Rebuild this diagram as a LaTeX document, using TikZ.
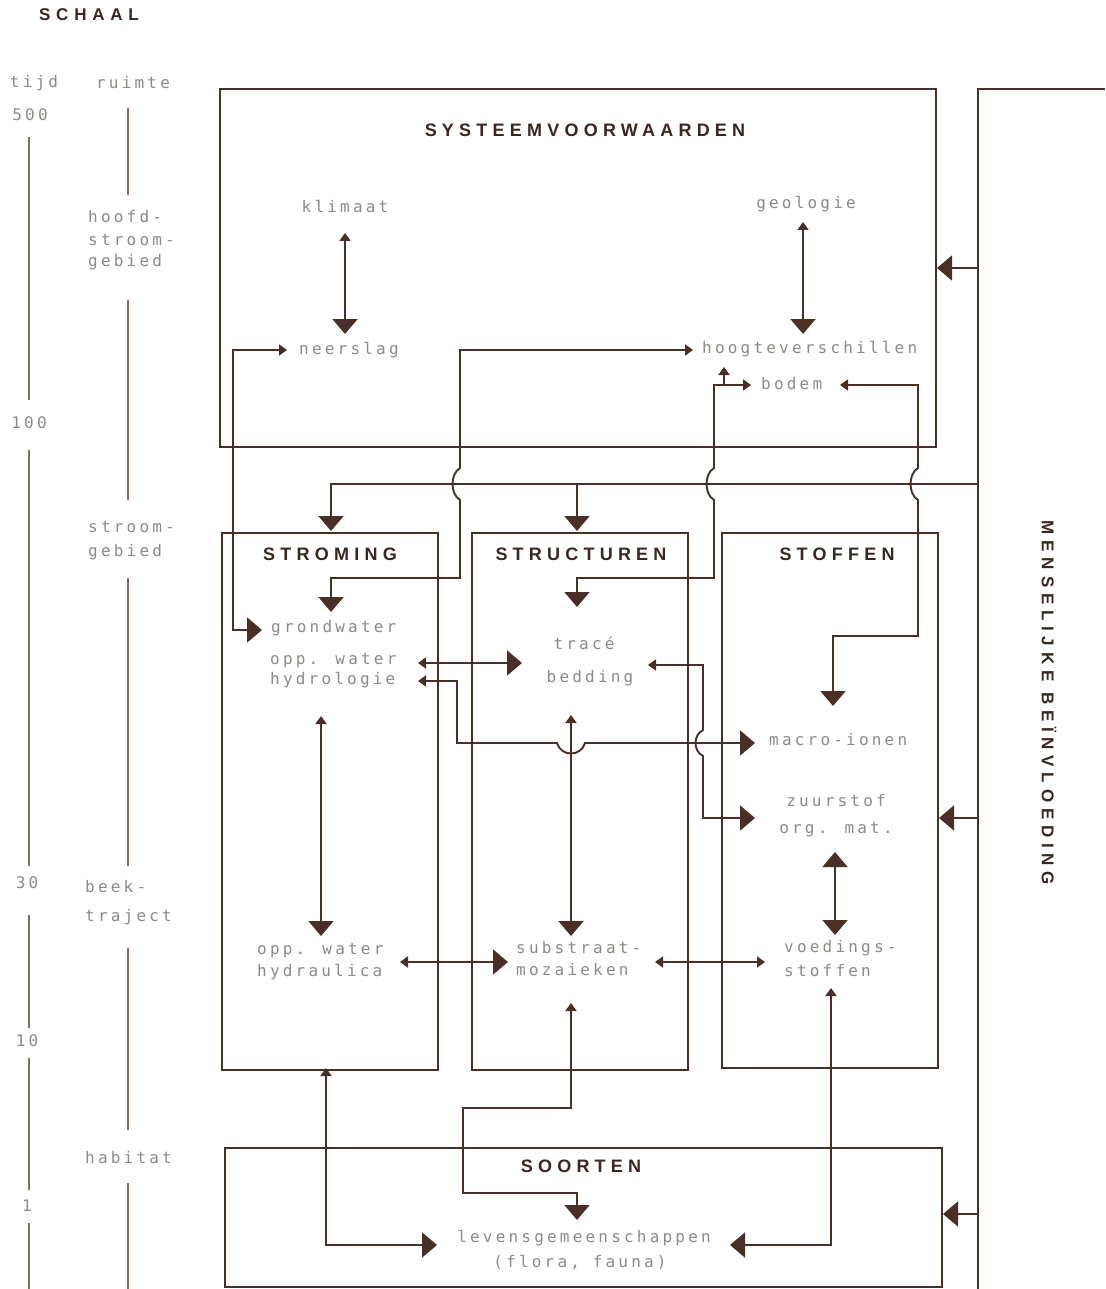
\documentclass[tikz,border=0pt]{standalone}
\usepackage{fontspec}
\setmainfont{Liberation Sans}
\newfontfamily\lblfont[LetterSpace=20]{DejaVu Sans Mono}
\newfontfamily\ttlfont[LetterSpace=29]{Liberation Sans}
\newfontfamily\mensfont[LetterSpace=34]{Liberation Sans}
\usetikzlibrary{arrows.meta}
\definecolor{ink}{HTML}{4A2F27}
\definecolor{lblc}{HTML}{8E8A86}
\definecolor{ttlc}{HTML}{3A2622}
\definecolor{sclc}{HTML}{8A6A60}
\tikzset{
  ST/.tip={Triangle[length=8pt,width=11pt]},
  BT/.tip={Triangle[length=15pt,width=25pt]},
  conn/.style={draw=ink, fill=none, line width=1.9pt},
  box/.style={draw=ink, line width=1.9pt, inner sep=0pt},
  lab/.style={text=lblc, font=\lblfont\fontsize{16}{19}\selectfont, inner sep=0pt, align=left},
  ttl/.style={text=ttlc, font=\ttlfont\bfseries\fontsize{18}{21}\selectfont, inner sep=0pt},
  mttl/.style={text=ttlc, font=\mensfont\bfseries\fontsize{17}{20}\selectfont, inner sep=0pt},
  sline/.style={draw=sclc, line width=1.6pt},
}
\begin{document}
\begin{tikzpicture}[x=1pt,y=-1pt]
\useasboundingbox[fill=white] (0,0) rectangle (1105,1289);

% ---------- scale column ----------
\node[mttl] (schaal) at (89,15) {SCHAAL};
\node[lab] (tijd) at (34,83) {tijd};
\node[lab] (ruimte) at (133,83) {ruimte};
\node[lab] (t500) at (30,115) {500};
\node[lab] (t100) at (29,423) {100};
\node[lab] (t30) at (27,883) {30};
\node[lab] (t10) at (27,1041) {10};
\node[lab] (t1) at (27,1206) {1};
\node[lab, anchor=west] (hs1) at (88,217) {hoofd-};
\node[lab, anchor=west] (hs2) at (88,240) {stroom-};
\node[lab, anchor=west] (hs3) at (88,262) {gebied};
\node[lab, anchor=west] (sg1) at (88,527) {stroom-};
\node[lab, anchor=west] (sg2) at (88,552) {gebied};
\node[lab, anchor=west] (bt1) at (85,887) {beek-};
\node[lab, anchor=west] (bt2) at (85,917) {traject};
\node[lab, anchor=west] (hab) at (85,1158) {habitat};

\draw[sline] (29,137) -- (29,400);
\draw[sline] (29,450) -- (29,866);
\draw[sline] (29,915) -- (29,1028);
\draw[sline] (29,1058) -- (29,1190);
\draw[sline] (29,1223) -- (29,1289);
\draw[sline] (128,108) -- (128,195);
\draw[sline] (128,300) -- (128,500);
\draw[sline] (128,578) -- (128,866);
\draw[sline] (128,948) -- (128,1130);
\draw[sline] (128,1183) -- (128,1289);

% ---------- boxes ----------
\node[box, minimum width=716pt, minimum height=358pt] (sys) at (578,268) {};
\node[box, minimum width=216pt, minimum height=537pt] (strom) at (330,801.5) {};
\node[box, minimum width=216pt, minimum height=537pt] (struc) at (580,801.5) {};
\node[box, minimum width=216pt, minimum height=535pt] (stof) at (830,800.5) {};
\node[box, minimum width=717pt, minimum height=139pt] (soort) at (583.5,1217.5) {};
\draw[conn] (1105,89) -- (978,89) -- (978,1289);

% ---------- titles ----------
\node[ttl] (tsys) at (585,130) {SYSTEEMVOORWAARDEN};
\node[ttl] (tstrom) at (330,554) {STROMING};
\node[ttl] (tstruc) at (581,554) {STRUCTUREN};
\node[ttl] (tstof) at (837,554) {STOFFEN};
\node[ttl] (tsoort) at (581,1166) {SOORTEN};
\node[mttl, rotate=-90] (mens) at (1049,703) {MENSELIJKE BEÏNVLOEDING};

% ---------- labels ----------
\node[lab] (klimaat) at (345,206) {klimaat};
\node[lab] (geologie) at (806,204) {geologie};
\node[lab, anchor=west] (neerslag) at (299,350) {neerslag};
\node[lab, anchor=west] (hoogte) at (702,349) {hoogteverschillen};
\node[lab, anchor=west] (bodem) at (761,384) {bodem};
\node[lab, anchor=west] (grondw) at (271,628) {grondwater};
\node[lab, anchor=west] (opp1) at (270,661) {opp. water};
\node[lab, anchor=west] (hydrol) at (270,680) {hydrologie};
\node[lab] (trace) at (584,643) {tracé};
\node[lab] (bedding) at (590,678) {bedding};
\node[lab, anchor=west] (macro) at (769,740) {macro-ionen};
\node[lab] (zuurst) at (836,801) {zuurstof};
\node[lab] (orgmat) at (836,830) {org. mat.};
\node[lab, anchor=west] (opp2) at (257,951) {opp. water};
\node[lab, anchor=west] (hydrau) at (257,972) {hydraulica};
\node[lab, anchor=west] (subst) at (516,948) {substraat-};
\node[lab, anchor=west] (mozai) at (516,970) {mozaieken};
\node[lab, anchor=west] (voed) at (784,948) {voedings-};
\node[lab, anchor=west] (stoffen) at (784,971) {stoffen};
\node[lab] (levens) at (584,1238) {levensgemeenschappen};
\node[lab] (flora) at (580,1262) {(flora, fauna)};

% ---------- connector end points ----------
\coordinate (klimaatS) at (345,233);
\coordinate (neerslagN) at (345,334);
\coordinate (geologieS) at (803,222);
\coordinate (hoogteN) at (803,334);
\coordinate (neerslagW) at (287,350);
\coordinate (grondwW) at (262,630);
\coordinate (hoogteW) at (693,350);
\coordinate (grondwN) at (331,612);
\coordinate (bodemW) at (751,385);
\coordinate (hoogteS) at (724,367);
\coordinate (traceN) at (577,607);
\coordinate (bodemE) at (840,385);
\coordinate (macroN) at (833,706);
\coordinate (mensL) at (978,484);
\coordinate (stromN) at (331,531);
\coordinate (strucN) at (577,531);
\coordinate (hydrolE) at (418,663);
\coordinate (beddingW) at (522,663);
\coordinate (hydrolE2) at (418,681);
\coordinate (macroW) at (755,743);
\coordinate (beddingE) at (648,665);
\coordinate (zuurW) at (755,818);
\coordinate (hydrolS) at (321,716);
\coordinate (opp2N) at (321,936);
\coordinate (beddingS) at (571,715);
\coordinate (substN) at (571,936);
\coordinate (orgmatS) at (835,852);
\coordinate (voedN) at (835,935);
\coordinate (hydrauE) at (400,962);
\coordinate (substW) at (508,962);
\coordinate (substE) at (655,962);
\coordinate (voedW) at (765,962);
\coordinate (strombot) at (326,1068);
\coordinate (levensW) at (437,1245);
\coordinate (substS) at (571,1003);
\coordinate (levensN) at (577,1220);
\coordinate (voedS) at (831,988);
\coordinate (levensE) at (730,1245);

% ---------- connectors ----------
\draw[conn, ST-BT] (klimaatS) -- (neerslagN);
\draw[conn, ST-BT] (geologieS) -- (hoogteN);
\draw[conn, ST-BT] (neerslagW) -- (233,350) -- (233,630) -- (grondwW);
\draw[conn, ST-BT] (hoogteW) -- (460,350) -- (460,468)
   .. controls (450,474) and (450,494) .. (460,500) -- (460,578) -- (331,578) -- (grondwN);
\draw[conn, ST-BT] (bodemW) -- (714,385) -- (714,468)
   .. controls (704,474) and (704,494) .. (714,500) -- (714,578) -- (577,578) -- (traceN);
\draw[conn, -ST] (724,385) -- (hoogteS);
\draw[conn, ST-BT] (bodemE) -- (918,385) -- (918,468)
   .. controls (908,474) and (908,494) .. (918,500) -- (918,636) -- (833,636) -- (macroN);
\draw[conn, -BT] (mensL) -- (331,484) -- (stromN);
\draw[conn, -BT] (577,484) -- (strucN);
\draw[conn, -BT] (978,268) -- (937,268);
\draw[conn, -BT] (978,818) -- (939,818);
\draw[conn, -BT] (978,1214) -- (943,1214);

\draw[conn, ST-BT] (hydrolE) -- (beddingW);
\draw[conn, ST-BT] (hydrolE2) -- (457,681) -- (457,743) -- (557,743)
   .. controls (561,757) and (581,757) .. (585,743) -- (macroW);
\draw[conn, ST-BT] (beddingE) -- (703,665) -- (703,730)
   .. controls (693,735) and (693,751) .. (703,756) -- (703,818) -- (zuurW);
\draw[conn, ST-BT] (hydrolS) -- (opp2N);
\draw[conn, ST-BT] (beddingS) -- (substN);
\draw[conn, BT-BT] (orgmatS) -- (voedN);
\draw[conn, ST-BT] (hydrauE) -- (substW);
\draw[conn, ST-ST] (substE) -- (voedW);
\draw[conn, ST-BT] (strombot) -- (326,1245) -- (levensW);
\draw[conn, ST-BT] (substS) -- (571,1108) -- (463,1108) -- (463,1193) -- (577,1193) -- (levensN);
\draw[conn, ST-BT] (voedS) -- (831,1245) -- (levensE);
\end{tikzpicture}
\end{document}
